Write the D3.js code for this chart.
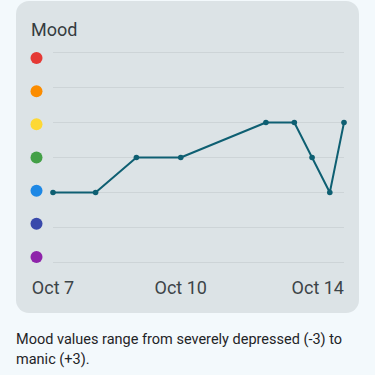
<!DOCTYPE html>
<html>
<head>
<meta charset="utf-8">
<script src="https://cdn.jsdelivr.net/npm/d3@7"></script>
<style>
  html, body { margin: 0; padding: 0; background: #f3f9fc; }
  body { width: 375px; height: 375px; overflow: hidden; font-family: Roboto, "Noto Sans", sans-serif; }
</style>
</head>
<body>
<svg id="chart" width="375" height="375"></svg>
<script>
// mood levels, top (+3) to bottom (-3)
const levels = [3, 2, 1, 0, -1, -2, -3];
const levelColors = ["#e53935", "#fb8c00", "#fdd835", "#43a047", "#1e88e5", "#3949ab", "#8e24aa"];

// mood entries
const entryTimes = [
  "2024-10-07T00:00", "2024-10-08T00:00", "2024-10-08T23:00",
  "2024-10-10T00:00", "2024-10-12T00:00", "2024-10-12T16:00",
  "2024-10-13T02:00", "2024-10-13T12:00", "2024-10-13T20:00"
];
const entryValues = [-1, -1, 0, 0, 1, 1, 0, -1, 1];

const tickDates = ["2024-10-07T00:00", "2024-10-10T00:00", "2024-10-14T00:00"];

const captionLines = [
  "Mood values range from severely depressed (-3) to",
  "manic (+3)."
];

const parse = d3.isoParse;
const data = entryTimes.map((t, i) => ({ date: parse(t), value: entryValues[i] }));

const svg = d3.select("#chart");

// card
svg.append("rect")
  .attr("x", 16).attr("y", 1)
  .attr("width", 343).attr("height", 312)
  .attr("rx", 13)
  .attr("fill", "#dce3e6");

svg.append("text")
  .attr("x", 31).attr("y", 36)
  .attr("font-size", 18)
  .attr("fill", "#353c40")
  .text("Mood");

const x = d3.scaleTime()
  .domain(d3.extent(data, d => d.date))
  .range([53, 344]);

const y = d3.scaleLinear()
  .domain([3, -3])
  .range([52.5, 262.5]);

// the legend dots sit on a slightly tighter spacing than the grid
const yDot = d3.scaleLinear()
  .domain([3, -3])
  .range([58, 257]);

// gridlines
svg.append("g")
  .selectAll("line")
  .data(levels)
  .enter().append("line")
  .attr("x1", 53).attr("x2", 344)
  .attr("y1", d => y(d)).attr("y2", d => y(d))
  .attr("stroke", "#cdd4d7")
  .attr("stroke-width", 1);

// level dots
svg.append("g")
  .selectAll("circle")
  .data(levels)
  .enter().append("circle")
  .attr("cx", 36.5)
  .attr("cy", d => yDot(d))
  .attr("r", 6)
  .attr("fill", (d, i) => levelColors[i]);

// x axis labels, kept inside the plot area
const ticks = svg.append("g")
  .selectAll("text")
  .data(tickDates.map(parse))
  .enter().append("text")
  .attr("y", 294)
  .attr("font-size", 18)
  .attr("fill", "#3c4448")
  .text(d3.timeFormat("%b %-d"));

ticks.each(function(d) {
  const el = d3.select(this);
  const w = this.getComputedTextLength();
  let cx = x(d);
  if (cx + w / 2 > 344) cx = 344 - w / 2;
  el.attr("x", cx - w / 2);
});

// line
const line = d3.line()
  .x(d => x(d.date))
  .y(d => y(d.value));

svg.append("path")
  .datum(data)
  .attr("d", line)
  .attr("fill", "none")
  .attr("stroke", "#0e5f72")
  .attr("stroke-width", 2)
  .attr("stroke-linejoin", "round");

svg.append("g")
  .selectAll("circle")
  .data(data)
  .enter().append("circle")
  .attr("cx", d => x(d.date))
  .attr("cy", d => y(d.value))
  .attr("r", 2.8)
  .attr("fill", "#0e5f72");

// caption
svg.append("g")
  .selectAll("text")
  .data(captionLines)
  .enter().append("text")
  .attr("x", 16)
  .attr("y", (d, i) => 344 + i * 19.5)
  .attr("font-size", 14.5)
  .attr("fill", "#1f2427")
  .text(d => d);
</script>
</body>
</html>
